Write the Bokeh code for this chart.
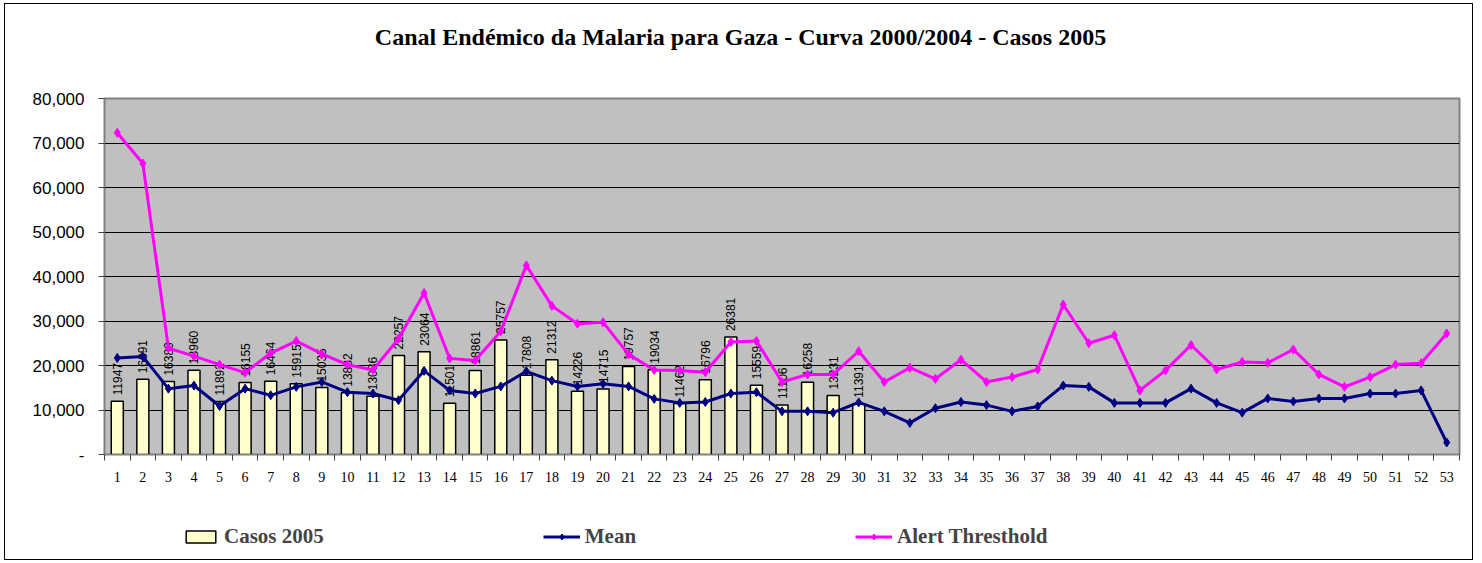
from bokeh.plotting import figure
from bokeh.models import (ColumnDataSource, FixedTicker, NumeralTickFormatter, Label,
                          Legend, LegendItem, Range1d)
from bokeh.layouts import column
from bokeh.core.properties import value
from bokeh.embed import file_html
from bokeh.resources import INLINE
import math

weeks = list(range(1, 54))

casos_2005 = [11947, 16891, 16389, 18960, 11892, 16155, 16464, 15915, 15035, 13882,
              13086, 22257, 23064, 11501, 18861, 25757, 17808, 21312, 14226, 14715,
              19757, 19034, 11462, 16796, 26381, 15559, 11106, 16258, 13231, 11391]

mean = [21700, 22000, 14800, 15500, 10900, 14800, 13300, 15200, 16300, 14000,
        13700, 12200, 18800, 14400, 13700, 15300, 18700, 16600, 15300, 15900,
        15300, 12500, 11600, 11800, 13700, 14000, 9700, 9700, 9400, 11700,
        9700, 7100, 10400, 11800, 11100, 9700, 10800, 15500, 15200, 11600,
        11600, 11600, 14800, 11600, 9400, 12600, 11900, 12600, 12600, 13700,
        13700, 14400, 2700]

alert = [72300, 65400, 23900, 22100, 20200, 18400, 22800, 25500, 22600, 20200,
         19000, 26000, 36300, 21600, 21100, 27700, 42500, 33400, 29400, 29700,
         22500, 19000, 18900, 18500, 25300, 25500, 16300, 18000, 18000, 23200,
         16300, 19500, 17000, 21300, 16300, 17400, 19100, 33700, 25000, 26800,
         14400, 18900, 24600, 19100, 20800, 20600, 23600, 18000, 15200, 17400,
         20200, 20500, 27200]

y_ticks = [0, 10000, 20000, 30000, 40000, 50000, 60000, 70000, 80000]

title_text = "Canal Endémico da Malaria para Gaza - Curva 2000/2004 - Casos 2005"
series_names = ["Casos 2005", "Mean", "Alert Thresthold"]

W = 1467
H0, H1, H2 = 60, 440, 55
ML, MT, MR, MB = 99, 34, 13, 50


def strip(height):
    f = figure(width=W, height=height, output_backend="svg", toolbar_location=None,
               x_range=Range1d(0, 1), y_range=Range1d(0, 1),
               x_axis_location=None, y_axis_location=None,
               min_border_left=0, min_border_right=0, min_border_top=0, min_border_bottom=0)
    f.grid.visible = False
    f.outline_line_color = None
    f.background_fill_color = "white"
    f.border_fill_color = "white"
    return f


# title strip
tf = strip(H0)
tf.add_layout(Label(x=636, y=28, x_units="screen", y_units="screen", text=title_text,
                    text_align="center", text_baseline="middle",
                    text_font="Liberation Serif", text_font_style="bold",
                    text_font_size="24px", text_color="black"))

p = figure(width=W, height=H1, output_backend="svg", toolbar_location=None,
           x_range=Range1d(0.5, 53.5), y_range=Range1d(0, 80000),
           min_border_left=ML, min_border_top=MT, min_border_right=MR, min_border_bottom=MB)
p.background_fill_color = "#C0C0C0"
p.border_fill_color = "white"
p.outline_line_color = "#808080"
p.outline_line_width = 2

# grid
p.xgrid.visible = False
p.ygrid.ticker = FixedTicker(ticks=y_ticks)
p.ygrid.grid_line_color = "black"
p.ygrid.grid_line_width = 1

# y axis
p.yaxis.ticker = FixedTicker(ticks=y_ticks)
p.yaxis.formatter = NumeralTickFormatter(format="0,0")
p.yaxis.major_label_overrides = {0: "-"}
p.yaxis.major_label_text_font = "Liberation Sans"
p.yaxis.major_label_text_font_size = "17px"
p.yaxis.major_label_text_color = "black"
p.yaxis.major_tick_out = 6
p.yaxis.major_tick_in = 0
p.yaxis.minor_tick_line_color = None
p.yaxis.axis_line_color = "#808080"
p.yaxis.major_tick_line_color = "#404040"
p.yaxis.major_label_standoff = 14

# x axis: labels at centres, ticks between categories
p.xaxis.ticker = FixedTicker(ticks=weeks, minor_ticks=[w - 0.5 for w in weeks] + [53.5])
p.xaxis.major_label_overrides = {w: str(w) for w in weeks}
p.xaxis.major_tick_line_color = None
p.xaxis.minor_tick_out = 6
p.xaxis.minor_tick_in = 0
p.xaxis.minor_tick_line_color = "#404040"
p.xaxis.axis_line_color = "#808080"
p.xaxis.major_label_text_font = "Liberation Serif"
p.xaxis.major_label_text_font_size = "14px"
p.xaxis.major_label_text_color = "black"
p.xaxis.major_label_standoff = 11

bar_style = dict(fill_color="#FFFFCC", line_color="black", line_width=1.5)
mean_style = dict(color="#000080")
alert_style = dict(color="#FF00FF")

bar_src = ColumnDataSource(dict(x=weeks[:len(casos_2005)], top=casos_2005,
                                lbl=[str(v) for v in casos_2005]))
p.vbar(x="x", top="top", width=0.47, source=bar_src, **bar_style)
p.text(x="x", y="top", text="lbl", source=bar_src, angle=math.pi / 2,
       text_align="left", text_baseline="middle", x_offset=0, y_offset=-6,
       text_font=value("Liberation Sans"), text_font_size="12px", text_color="black")

line_src = ColumnDataSource(dict(x=weeks, mean=mean, alert=alert))
p.line("x", "mean", source=line_src, line_width=3, **mean_style)
p.scatter("x", "mean", source=line_src, marker="diamond", size=9, **mean_style)
p.line("x", "alert", source=line_src, line_width=3, **alert_style)
p.scatter("x", "alert", source=line_src, marker="diamond", size=9, **alert_style)

# legend strip (separate figure so it is not clipped by the plot frame)
lf = strip(H2)
hidden = ColumnDataSource(dict(x=[float("nan")], y=[float("nan")]))
lb = lf.vbar(x="x", top="y", width=0.5, source=hidden, **bar_style)
lm1 = lf.line("x", "y", source=hidden, line_width=3, **mean_style)
lm2 = lf.scatter("x", "y", source=hidden, marker="diamond", size=9, **mean_style)
la1 = lf.line("x", "y", source=hidden, line_width=3, **alert_style)
la2 = lf.scatter("x", "y", source=hidden, marker="diamond", size=9, **alert_style)

legend = Legend(items=[LegendItem(label=series_names[0], renderers=[lb]),
                       LegendItem(label=series_names[1], renderers=[lm1, lm2]),
                       LegendItem(label=series_names[2], renderers=[la1, la2])],
                orientation="horizontal", location=(78, 10), spacing=219,
                padding=0, margin=0, glyph_width=37, glyph_height=15, label_standoff=5,
                label_text_font="Liberation Serif", label_text_font_style="bold",
                label_text_font_size="21px", border_line_color=None,
                background_fill_alpha=0)
lf.add_layout(legend, "center")

layout = column(tf, p, lf, spacing=0,
                styles={"border": "1.5px solid black", "margin-left": "4px", "margin-top": "3px"})

open("out.html", "w").write(file_html(layout, INLINE))
